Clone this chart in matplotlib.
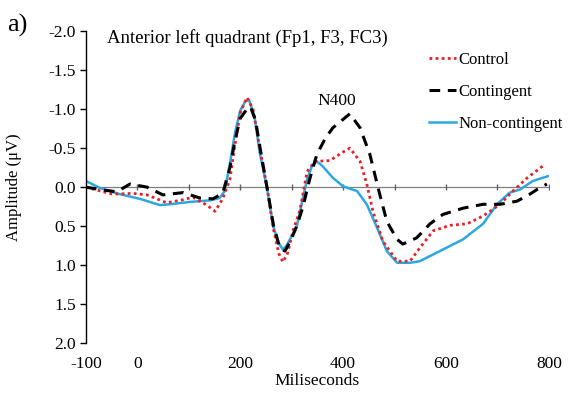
import matplotlib.pyplot as plt

# time (ms) and amplitude (uV)
t_control = [-100, -48, -9, 19, 57, 83, 108, 135, 151, 166, 180, 190, 200, 213, 225, 238,
             252, 265, 275, 283, 292, 303, 316, 330, 345, 374, 400, 413, 433, 446, 458,
             477, 505, 530, 549, 575, 608, 641, 672, 705, 730, 758, 792]
v_control = [0.0, 0.09, 0.08, 0.1, 0.2, 0.17, 0.13, 0.23, 0.31, 0.15, -0.1, -0.55, -0.95,
             -1.15, -1.0, -0.5, 0.0, 0.55, 0.85, 0.96, 0.85, 0.55, 0.3, -0.2, -0.33, -0.34,
             -0.45, -0.5, -0.33, -0.04, 0.31, 0.69, 0.95, 0.95, 0.78, 0.56, 0.49, 0.47,
             0.37, 0.22, 0.05, -0.12, -0.29]

t_conting = [-100, -73, -40, -14, 19, 50, 89, 122, 147, 166, 180, 190, 200, 213, 220, 230,
             240, 252, 265, 277, 287, 297, 310, 322, 335, 349, 365, 380, 413, 433, 452, 468,
             485, 505, 516, 543, 569, 594, 633, 672, 705, 738, 763, 777, 796]
v_conting = [0.0, 0.03, 0.06, -0.04, 0.0, 0.1, 0.07, 0.14, 0.15, 0.08, -0.25, -0.6, -0.88,
             -1.0, -1.03, -0.85, -0.45, 0.0, 0.5, 0.78, 0.82, 0.7, 0.5, 0.25, -0.1, -0.42,
             -0.62, -0.76, -0.94, -0.76, -0.42, 0.01, 0.44, 0.67, 0.73, 0.65, 0.47, 0.35,
             0.27, 0.22, 0.22, 0.18, 0.09, 0.03, -0.04]

t_noncont = [-100, -73, -34, 5, 44, 63, 102, 141, 160, 170, 180, 190, 200, 210, 217, 228,
             238, 252, 264, 275, 283, 290, 300, 310, 320, 330, 340, 349, 360, 380, 400, 427,
             446, 466, 485, 505, 530, 549, 588, 633, 672, 699, 724, 744, 769, 798]
v_noncont = [-0.08, 0.01, 0.09, 0.15, 0.23, 0.22, 0.19, 0.17, 0.14, 0.05, -0.3, -0.7, -0.98,
             -1.1, -1.12, -0.9, -0.44, 0.0, 0.5, 0.72, 0.8, 0.75, 0.63, 0.5, 0.2, -0.1,
             -0.28, -0.33, -0.27, -0.12, -0.01, 0.05, 0.22, 0.52, 0.82, 0.97, 0.97, 0.95,
             0.82, 0.67, 0.47, 0.22, 0.07, 0.03, -0.08, -0.14]

zero_ticks = [0, 100, 200, 300, 400, 500, 600, 700, 800]
x_ticks = [-100, 0, 200, 400, 600, 800]
y_ticks = [-2.0, -1.5, -1.0, -0.5, 0.0, 0.5, 1.0, 1.5, 2.0]

plt.rcParams['font.family'] = ['Liberation Serif', 'DejaVu Serif']

fig = plt.figure(figsize=(5.76, 3.99), dpi=100)
ax = fig.add_axes([0.149, 0.140, 0.804, 0.782])

# zero line with small tick marks
ax.axhline(0, color='#808080', lw=0.9, zorder=1)
ax.plot(zero_ticks, [0] * len(zero_ticks), '|', color='#606060', ms=4, mew=1, zorder=1)

ax.plot(t_control, v_control, color='#e8202a', lw=2, ls=(0, (1, 1.2)), label='Control', zorder=3)
ax.plot(t_conting, v_conting, color='black', lw=2.2, ls=(0, (3.5, 2.5)), label='Contingent', zorder=3)
ax.plot(t_noncont, v_noncont, color='#2ba8e0', lw=1.8, label='Non-contingent', zorder=2)

ax.set_xlim(-100, 800)
ax.set_ylim(2.0, -2.0)
ax.set_yticks(y_ticks)
ax.set_yticklabels([f'{v:.1f}' for v in y_ticks], fontsize=12.5)
ax.set_xticks(x_ticks)
ax.set_xticklabels([str(v) for v in x_ticks], fontsize=12.5)
ax.tick_params(axis='x', length=0, pad=9)
ax.tick_params(axis='y', length=4, direction='out', width=1, pad=3)

for s in ['top', 'right', 'bottom']:
    ax.spines[s].set_visible(False)
ax.spines['left'].set_linewidth(1)

ax.set_xlabel('Miliseconds', fontsize=12.5, labelpad=1)
ax.set_ylabel('Amplitude (μV)', fontsize=12)
ax.yaxis.set_label_coords(-0.138, 0.5)

fig.text(0.186, 0.905, 'Anterior left quadrant (Fp1, F3, FC3)', fontsize=13.5,
         va='center', ha='left')
ax.text(388, -1.1, 'N400', fontsize=12.5, ha='center', va='center')
fig.text(0.012, 0.965, 'a)', fontsize=19, va='top', ha='left')

ax.legend(loc='upper left', bbox_to_anchor=(0.745, 0.87), bbox_transform=fig.transFigure,
          frameon=False, fontsize=12, borderpad=0, borderaxespad=0,
          handlelength=1.6, handletextpad=0.15, labelspacing=0.95)

fig.savefig('out.png', dpi=100)
